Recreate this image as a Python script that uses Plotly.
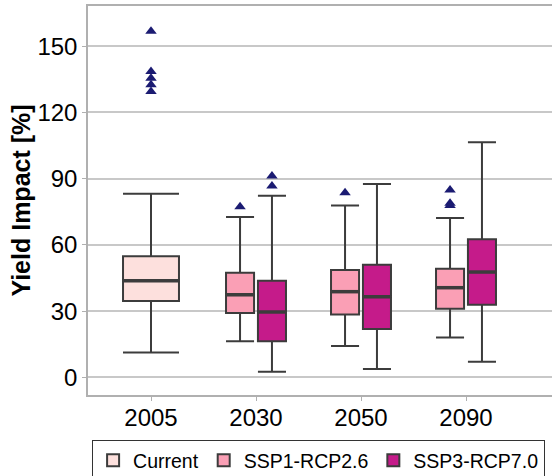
import plotly.graph_objects as go

# ---- data ----
years = ["2005", "2030", "2050", "2090"]

# Current climate (2005 only)
cur_q1 = [34.6]
cur_med = [43.8]
cur_q3 = [54.8]
cur_lo = [11.3]
cur_hi = [83.2]
cur_out = [156.8, 138.5, 135.5, 132.5, 129.5]

# SSP1-RCP2.6 (2030, 2050, 2090)
s1_q1 = [29.1, 28.5, 31.1]
s1_med = [37.4, 38.8, 40.6]
s1_q3 = [47.4, 48.6, 49.2]
s1_lo = [16.3, 14.2, 18.1]
s1_hi = [72.6, 77.8, 72.2]
s1_out = [[77.3], [83.6], [84.9, 78.8, 77.8]]

# SSP3-RCP7.0 (2030, 2050, 2090)
s3_q1 = [16.4, 21.9, 32.9]
s3_med = [29.6, 36.5, 47.7]
s3_q3 = [43.8, 51.0, 62.5]
s3_lo = [2.5, 3.8, 7.1]
s3_hi = [82.3, 87.6, 106.5]
s3_out = [[91.2, 86.7], [], []]

yticks = [0, 30, 60, 90, 120, 150]

# ---- styling ----
C_CUR = "#fde0dd"
C_S1 = "#fa9fb5"
C_S3 = "#c51b8a"
EDGE = "#3c3c3c"
OUT = "#1b1b72"
DODGE = 0.152
W_FULL = 0.533
W_HALF = 0.267

cur_idx = [years.index("2005")]
fut_idx = [years.index(y) for y in ["2030", "2050", "2090"]]

fig = go.Figure()

def add_box(name, idx, off, w, q1, med, q3, lo, hi, color):
    xs = [i + off for i in idx]
    fig.add_trace(go.Box(
        name=name,
        x=xs,
        q1=q1, median=med, q3=q3, lowerfence=lo, upperfence=hi,
        width=w, whiskerwidth=1, boxpoints=False,
        fillcolor=color, line=dict(color=EDGE, width=2),
        hoverinfo="skip",
    ))
    # thicker median bar (as in ggplot)
    mx, my = [], []
    for x, m in zip(xs, med):
        mx += [x - w / 2, x + w / 2, None]
        my += [m, m, None]
    fig.add_trace(go.Scatter(
        x=mx, y=my, mode="lines", showlegend=False, hoverinfo="skip",
        line=dict(color=EDGE, width=3.5),
    ))

add_box("Current", cur_idx, 0.0, W_FULL, cur_q1, cur_med, cur_q3, cur_lo, cur_hi, C_CUR)
add_box("SSP1-RCP2.6", fut_idx, -DODGE, W_HALF, s1_q1, s1_med, s1_q3, s1_lo, s1_hi, C_S1)
add_box("SSP3-RCP7.0", fut_idx, DODGE, W_HALF, s3_q1, s3_med, s3_q3, s3_lo, s3_hi, C_S3)

# outliers
ox, oy = [], []
for v in cur_out:
    ox.append(cur_idx[0]); oy.append(v)
for k, i in enumerate(fut_idx):
    for v in s1_out[k]:
        ox.append(i - DODGE); oy.append(v)
    for v in s3_out[k]:
        ox.append(i + DODGE); oy.append(v)
fig.add_trace(go.Scatter(
    x=ox, y=oy, mode="markers", showlegend=False, hoverinfo="skip",
    marker=dict(symbol="triangle-up", size=10, color=OUT, line=dict(width=0)),
))

# The reference figure is cropped on the right and bottom: draw a larger
# figure and let the 552x476 window clip it.
FIG_W, FIG_H = 600, 500
L, T = 88, 6
PLOT_BOTTOM = 395
CAT_PX = 105.0
plot_w = FIG_W - L
x_lo = -0.6
x_hi = x_lo + plot_w / CAT_PX

FONT = "Liberation Sans, Arial, sans-serif"
fig.update_layout(
    width=FIG_W, height=FIG_H,
    margin=dict(l=L, r=0, t=T, b=FIG_H - PLOT_BOTTOM),
    paper_bgcolor="white", plot_bgcolor="white",
    font=dict(family=FONT, color="black"),
    boxmode="overlay",
    showlegend=True,
    legend=dict(
        orientation="h", x=0.008, y=-45 / (PLOT_BOTTOM - T), xanchor="left", yanchor="top",
        font=dict(size=19.5, family=FONT, color="black"),
        bordercolor="#333333", borderwidth=1, bgcolor="white",
        traceorder="normal",
    ),
    xaxis=dict(
        range=[x_lo, x_hi], tickvals=list(range(len(years))), ticktext=years,
        showgrid=False, zeroline=False,
        showline=True, linecolor="#b0b0b0", linewidth=1.5, mirror=True,
        ticks="outside", ticklen=4, tickcolor="#b0b0b0",
        ticklabelstandoff=-4,
        tickfont=dict(size=24, family=FONT, color="black"),
    ),
    yaxis=dict(
        range=[-8, 168.2], tickvals=yticks,
        showgrid=True, gridcolor="#c8c8c8", gridwidth=1.8,
        zeroline=False,
        showline=True, linecolor="#b0b0b0", linewidth=1.5,
        ticks="outside", ticklen=4, tickcolor="#b0b0b0",
        tickfont=dict(size=24, family=FONT, color="black"),
        title=dict(text="<b>Yield Impact [%]</b>", font=dict(size=25, family=FONT, color="black"), standoff=0),
    ),
)

fig.write_html(
    "out.html",
    config={"displayModeBar": False},
    post_script="document.body.style.margin='0';document.body.style.overflow='hidden';",
)
